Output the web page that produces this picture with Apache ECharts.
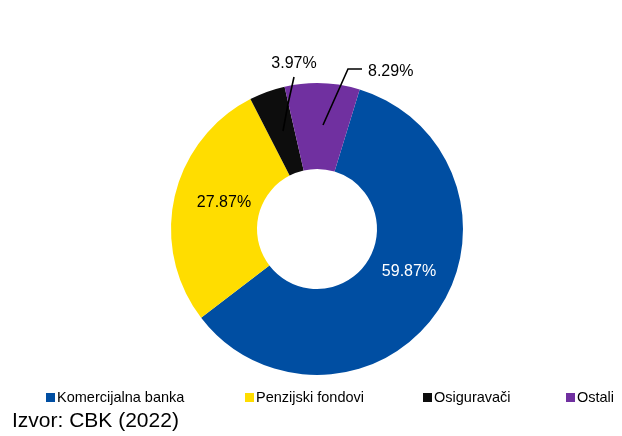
<!DOCTYPE html>
<html lang="bs">
<head>
    <meta charset="utf-8">
    <title>Izvor: CBK (2022)</title>
    <script src="https://cdn.jsdelivr.net/npm/echarts@6/dist/echarts.min.js"></script>
    <style>
        html, body { margin: 0; padding: 0; background: #fff; }
        #chartPie { width: 622px; height: 436px; }
    </style>
</head>
<body>
<div id="chartPie"></div>

<script>
    // podaci
    var categories = ['Komercijalna banka', 'Penzijski fondovi', 'Osiguravači', 'Ostali'];
    var shares = [59.87, 27.87, 3.97, 8.29];
    var colors = ['#004ea2', '#ffdd00', '#0d0d0d', '#7030a0'];
    var labelColors = ['#ffffff', '#000000', '#000000', '#000000'];
    var sourceText = 'Izvor: CBK (2022)';

    var font = '"Liberation Sans", Arial, sans-serif';

    // pozicije oznaka (centar teksta) i linije do njih
    var labelPos = [
        { x: 409, y: 272, align: 'center' },
        { x: 224, y: 203, align: 'center' },
        { x: 294, y: 64, align: 'center', line: [[283, 131], [288, 104], [294, 77]] },
        { x: 368, y: 72, align: 'left', line: [[323, 125], [348, 69], [362, 69]] }
    ];

    var chartPie = echarts.init(document.getElementById('chartPie'), null, { renderer: 'canvas' });

    var pieCenter = [317, 229];
    var pieRadius = [60, 146];

    // osnovni prsten
    var sliceData = categories.map(function (name, i) {
        return { name: name, value: shares[i], itemStyle: { color: colors[i] } };
    });

    // providni sloj iznad - samo oznake i linije
    var labelData = categories.map(function (name, i) {
        var outside = i >= 2;
        return {
            name: name,
            value: shares[i],
            itemStyle: { color: 'rgba(0,0,0,0)' },
            label: { color: labelColors[i] },
            labelLine: { show: outside, lineStyle: { color: '#000', width: 1.6 } }
        };
    });

    // legenda - jedna stavka po legendi
    var legendLeft = [46, 245, 423, 566];
    var legends = categories.map(function (name, i) {
        return {
            data: [{ name: name, itemStyle: { color: colors[i] } }],
            left: legendLeft[i],
            top: 390,
            padding: 0,
            itemWidth: 9,
            itemHeight: 9,
            itemGap: 0,
            icon: 'rect',
            selectedMode: false,
            textStyle: { fontFamily: font, fontSize: 14.5, color: '#000', padding: [0, 0, 0, -3] }
        };
    });

    chartPie.setOption({
        animation: false,
        textStyle: { fontFamily: font },
        color: colors,
        title: {
            text: sourceText,
            left: 12,
            top: 411,
            padding: 0,
            textStyle: { fontFamily: font, fontSize: 21, fontWeight: 'normal', color: '#000' }
        },
        legend: legends,
        series: [
            {
                type: 'pie',
                z: 2,
                center: pieCenter,
                radius: pieRadius,
                startAngle: 73,
                clockwise: true,
                itemStyle: { borderWidth: 0 },
                label: { show: false },
                labelLine: { show: false },
                emphasis: { disabled: true },
                data: sliceData
            },
            {
                type: 'pie',
                z: 5,
                silent: true,
                center: pieCenter,
                radius: pieRadius,
                startAngle: 73,
                clockwise: true,
                avoidLabelOverlap: false,
                itemStyle: { borderWidth: 0 },
                label: {
                    show: true,
                    position: 'outside',
                    fontFamily: font,
                    fontSize: 16,
                    formatter: function (p) { return p.value.toFixed(2) + '%'; }
                },
                labelLine: { length: 10, length2: 10 },
                labelLayout: function (params) {
                    var p = labelPos[params.dataIndex];
                    var out = { x: p.x, y: p.y, align: p.align, verticalAlign: 'middle' };
                    if (p.line) out.labelLinePoints = p.line;
                    return out;
                },
                emphasis: { disabled: true },
                data: labelData
            }
        ]
    });
</script>
</body>
</html>
